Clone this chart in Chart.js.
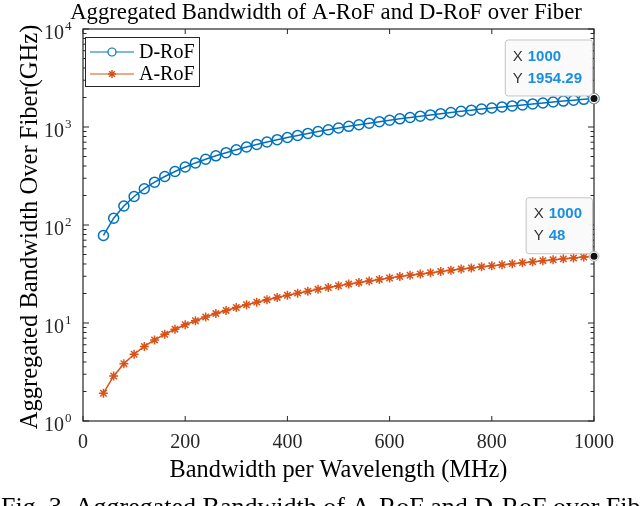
<!DOCTYPE html>
<html>
<head>
<meta charset="utf-8">
<script src="https://cdn.jsdelivr.net/npm/chart.js@4.4.0/dist/chart.umd.min.js"></script>
<style>
  html, body { margin: 0; padding: 0; background: #fff; overflow: hidden; }
  canvas { display: block; }
</style>
</head>
<body>
<canvas id="chart" width="640" height="506"></canvas>
<script>
// bandwidth per wavelength (MHz)
const xValues = [40, 60, 80, 100, 120, 140, 160, 180, 200, 220, 240, 260, 280, 300, 320, 340, 360, 380,
  400, 420, 440, 460, 480, 500, 520, 540, 560, 580, 600, 620, 640, 660, 680, 700, 720, 740, 760, 780,
  800, 820, 840, 860, 880, 900, 920, 940, 960, 980, 1000];

// aggregated bandwidth over fiber (GHz)
const dRoF = [78.17, 117.26, 156.34, 195.43, 234.51, 273.60, 312.69, 351.77, 390.86, 429.94, 469.03,
  508.12, 547.20, 586.29, 625.37, 664.46, 703.54, 742.63, 781.72, 820.80, 859.89, 898.97, 938.06,
  977.15, 1016.23, 1055.32, 1094.40, 1133.49, 1172.57, 1211.66, 1250.75, 1289.83, 1328.92, 1368.00,
  1407.09, 1446.17, 1485.26, 1524.35, 1563.43, 1602.52, 1641.60, 1680.69, 1719.78, 1758.86, 1797.95,
  1837.03, 1876.12, 1915.20, 1954.29];
const aRoF = [1.92, 2.88, 3.84, 4.8, 5.76, 6.72, 7.68, 8.64, 9.6, 10.56, 11.52, 12.48, 13.44, 14.4,
  15.36, 16.32, 17.28, 18.24, 19.2, 20.16, 21.12, 22.08, 23.04, 24, 24.96, 25.92, 26.88, 27.84, 28.8,
  29.76, 30.72, 31.68, 32.64, 33.6, 34.56, 35.52, 36.48, 37.44, 38.4, 39.36, 40.32, 41.28, 42.24, 43.2,
  44.16, 45.12, 46.08, 47.04, 48];

const xTicks = [0, 200, 400, 600, 800, 1000];
const yExponents = [0, 1, 2, 3, 4];

const BLUE = '#0072BD';
const ORANGE = '#D95319';
const AXIS = '#262626';
const SERIF = '"Liberation Serif", "Times New Roman", serif';
const SANS = '"Liberation Sans", Arial, sans-serif';

function toPoints(xs, ys) {
  return xs.map((x, i) => ({ x: x, y: ys[i] }));
}

// font size that makes text span the given width
function fitSize(ctx, text, width, family) {
  ctx.font = '100px ' + family;
  return 100 * width / ctx.measureText(text).width;
}

function drawStar(ctx, x, y, r) {
  const d = r * Math.cos(Math.PI / 4);
  ctx.beginPath();
  ctx.moveTo(x - r, y); ctx.lineTo(x + r, y);
  ctx.moveTo(x, y - r); ctx.lineTo(x, y + r);
  ctx.moveTo(x - d, y - d); ctx.lineTo(x + d, y + d);
  ctx.moveTo(x - d, y + d); ctx.lineTo(x + d, y - d);
  ctx.stroke();
}

function roundRect(ctx, x, y, w, h, r) {
  ctx.beginPath();
  ctx.moveTo(x + r, y);
  ctx.arcTo(x + w, y, x + w, y + h, r);
  ctx.arcTo(x + w, y + h, x, y + h, r);
  ctx.arcTo(x, y + h, x, y, r);
  ctx.arcTo(x, y, x + w, y, r);
  ctx.closePath();
}

function drawDataTip(ctx, px, py, xv, yv) {
  ctx.font = '15px ' + SANS;
  const lw = Math.max(ctx.measureText('X').width, ctx.measureText('Y').width);
  ctx.font = 'bold 15px ' + SANS;
  const vw = Math.max(ctx.measureText(String(xv)).width, ctx.measureText(String(yv)).width);
  const w = 8 + lw + 5 + vw + 10;
  const h = 56;
  const left = px - 2 - w;
  const top = py - 3 - h;
  roundRect(ctx, left + 0.5, top + 0.5, w, h, 3);
  ctx.fillStyle = 'rgba(250,250,250,0.95)';
  ctx.fill();
  ctx.strokeStyle = '#c4c4c4';
  ctx.lineWidth = 1;
  ctx.stroke();
  ctx.textBaseline = 'middle';
  ctx.textAlign = 'left';
  ctx.font = '15px ' + SANS;
  ctx.fillStyle = '#333';
  ctx.fillText('X', left + 8, top + 17);
  ctx.fillText('Y', left + 8, top + 39);
  ctx.font = 'bold 15px ' + SANS;
  ctx.fillStyle = '#1a8fe0';
  ctx.fillText(String(xv), left + 8 + lw + 5, top + 17);
  ctx.fillText(String(yv), left + 8 + lw + 5, top + 39);
  // marker
  ctx.beginPath();
  ctx.arc(px, py, 5, 0, Math.PI * 2);
  ctx.fillStyle = '#fff';
  ctx.fill();
  ctx.strokeStyle = '#aaa';
  ctx.lineWidth = 0.8;
  ctx.stroke();
  ctx.beginPath();
  ctx.arc(px, py, 3.5, 0, Math.PI * 2);
  ctx.fillStyle = '#111';
  ctx.fill();
}

const matlabAxes = {
  id: 'matlabAxes',
  afterDatasetsDraw(chart) {
    const ctx = chart.ctx;
    const a = chart.chartArea;
    const xs = chart.scales.x;
    const ys = chart.scales.y;
    ctx.save();

    // box
    ctx.strokeStyle = AXIS;
    ctx.lineWidth = 1.2;
    ctx.strokeRect(a.left, a.top, a.right - a.left, a.bottom - a.top);

    // x ticks
    ctx.lineWidth = 1;
    ctx.beginPath();
    xTicks.forEach(v => {
      const px = xs.getPixelForValue(v);
      ctx.moveTo(px, a.bottom); ctx.lineTo(px, a.bottom - 5);
      ctx.moveTo(px, a.top); ctx.lineTo(px, a.top + 5);
    });
    // y ticks, major and minor
    yExponents.forEach(e => {
      const py = ys.getPixelForValue(Math.pow(10, e));
      ctx.moveTo(a.left, py); ctx.lineTo(a.left + 6, py);
      ctx.moveTo(a.right, py); ctx.lineTo(a.right - 6, py);
      if (e < yExponents[yExponents.length - 1]) {
        for (let m = 2; m <= 9; m++) {
          const pm = ys.getPixelForValue(m * Math.pow(10, e));
          ctx.moveTo(a.left, pm); ctx.lineTo(a.left + 3.5, pm);
          ctx.moveTo(a.right, pm); ctx.lineTo(a.right - 3.5, pm);
        }
      }
    });
    ctx.stroke();

    // x tick labels
    ctx.fillStyle = AXIS;
    ctx.font = '20px ' + SERIF;
    ctx.textAlign = 'center';
    ctx.textBaseline = 'alphabetic';
    xTicks.forEach(v => {
      ctx.fillText(String(v), xs.getPixelForValue(v), 448);
    });

    // y tick labels 10^e
    yExponents.forEach(e => {
      const py = ys.getPixelForValue(Math.pow(10, e));
      ctx.font = '20px ' + SERIF;
      ctx.textAlign = 'right';
      ctx.fillText('10', 64, py + 9.5);
      ctx.font = '13px ' + SERIF;
      ctx.textAlign = 'left';
      ctx.fillText(String(e), 65, py + 1);
    });

    // axis titles
    const xTitle = 'Bandwidth per Wavelength (MHz)';
    ctx.font = fitSize(ctx, xTitle, 338, SERIF) + 'px ' + SERIF;
    ctx.textAlign = 'center';
    ctx.fillStyle = '#000';
    ctx.fillText(xTitle, (a.left + a.right) / 2, 477);

    const yTitle = 'Aggregated Bandwidth Over Fiber(GHz)';
    ctx.font = fitSize(ctx, yTitle, 405, SERIF) + 'px ' + SERIF;
    ctx.save();
    ctx.translate(37, 227);
    ctx.rotate(-Math.PI / 2);
    ctx.fillText(yTitle, 0, 0);
    ctx.restore();

    // chart title
    const title = 'Aggregated Bandwidth of A-RoF and D-RoF over Fiber';
    ctx.font = fitSize(ctx, title, 512, SERIF) + 'px ' + SERIF;
    ctx.fillText(title, 326, 19);

    // caption, cut by the page edge
    const caption = 'Fig. 3. Aggregated Bandwidth of A-RoF and D-RoF over Fiber';
    ctx.font = fitSize(ctx, 'Fig. 3. Aggregated Bandwidth', 316, SERIF) + 'px ' + SERIF;
    ctx.textAlign = 'left';
    ctx.fillText(caption, 1, 515);

    // legend
    ctx.fillStyle = '#fff';
    ctx.fillRect(85.5, 37.5, 114, 49);
    ctx.strokeStyle = AXIS;
    ctx.lineWidth = 1;
    ctx.strokeRect(85.5, 37.5, 114, 49);
    const entries = [
      { label: 'D-RoF', color: BLUE, y: 52, marker: 'circle' },
      { label: 'A-RoF', color: ORANGE, y: 74, marker: 'star' }
    ];
    entries.forEach(en => {
      ctx.strokeStyle = en.color;
      ctx.lineWidth = 1.2;
      ctx.beginPath();
      ctx.moveTo(90, en.y); ctx.lineTo(134, en.y);
      ctx.stroke();
      if (en.marker === 'circle') {
        ctx.beginPath();
        ctx.arc(112, en.y, 4, 0, Math.PI * 2);
        ctx.fillStyle = '#fff';
        ctx.fill();
        ctx.stroke();
      } else {
        ctx.lineWidth = 1.5;
        drawStar(ctx, 112, en.y, 4);
      }
      ctx.fillStyle = '#000';
      ctx.font = '20px ' + SERIF;
      ctx.textBaseline = 'middle';
      ctx.fillText(en.label, 139, en.y + 1);
      ctx.textBaseline = 'alphabetic';
    });

    // data tips at the last point of each series
    const last = xValues.length - 1;
    drawDataTip(ctx, xs.getPixelForValue(xValues[last]), ys.getPixelForValue(dRoF[last]), xValues[last], dRoF[last]);
    drawDataTip(ctx, xs.getPixelForValue(xValues[last]), ys.getPixelForValue(aRoF[last]), xValues[last], aRoF[last]);

    ctx.restore();
  }
};

new Chart(document.getElementById('chart'), {
  type: 'line',
  data: {
    datasets: [
      {
        label: 'D-RoF',
        data: toPoints(xValues, dRoF),
        borderColor: BLUE,
        borderWidth: 1.5,
        pointStyle: 'circle',
        pointRadius: 5,
        pointBorderWidth: 1.5,
        pointBorderColor: BLUE,
        pointBackgroundColor: 'rgba(255,255,255,0)',
        tension: 0,
        clip: false
      },
      {
        label: 'A-RoF',
        data: toPoints(xValues, aRoF),
        borderColor: ORANGE,
        borderWidth: 1.5,
        pointStyle: 'star',
        pointRadius: 4.5,
        pointBorderWidth: 1.5,
        pointBorderColor: ORANGE,
        pointBackgroundColor: ORANGE,
        tension: 0,
        clip: false
      }
    ]
  },
  options: {
    responsive: false,
    animation: false,
    layout: { padding: { left: 0, right: 46, top: 29, bottom: 0 } },
    plugins: {
      legend: { display: false },
      title: { display: false },
      tooltip: { enabled: false }
    },
    scales: {
      x: {
        type: 'linear',
        min: 0,
        max: 1000,
        grid: { display: false },
        border: { display: false },
        ticks: { display: false, stepSize: 200 },
        afterFit: s => { s.height = 85; }
      },
      y: {
        type: 'logarithmic',
        min: 1,
        max: 10000,
        grid: { display: false },
        border: { display: false },
        ticks: { display: false },
        afterFit: s => { s.width = 83; }
      }
    }
  },
  plugins: [matlabAxes]
});
</script>
</body>
</html>
